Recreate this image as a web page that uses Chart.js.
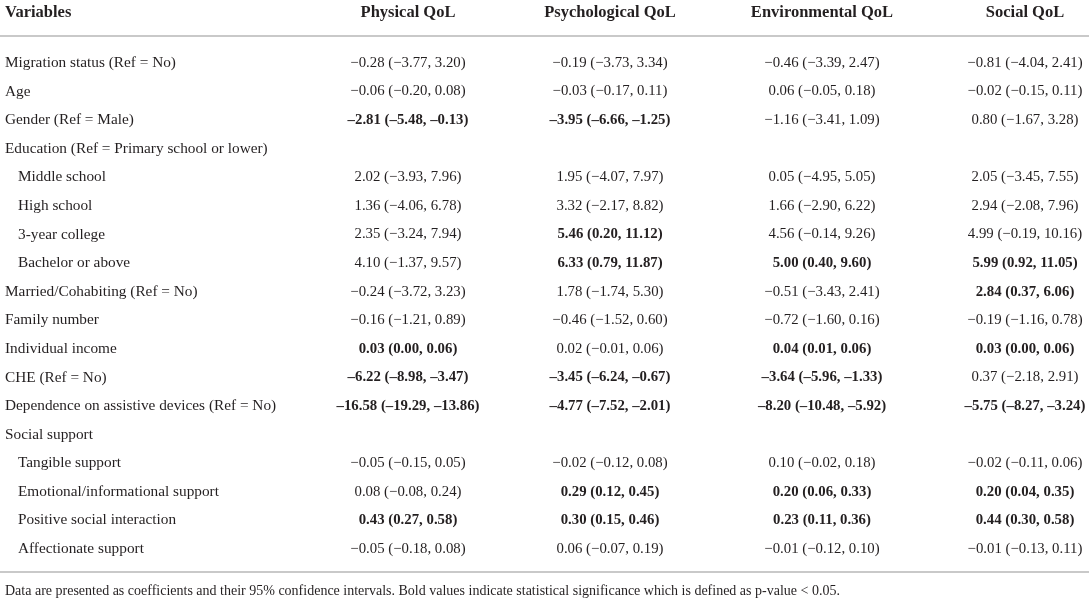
<!DOCTYPE html>
<html>
<head>
<meta charset="utf-8">
<script src="https://cdn.jsdelivr.net/npm/chart.js@4.4.0/dist/chart.umd.min.js"></script>
<style>
    body { margin: 0; background: #fff; }
    #qolTable { display: block; }
</style>
</head>
<body>
<canvas id="qolTable" width="1089" height="603"></canvas>
<script>
// table content
var columns = ["Physical QoL", "Psychological QoL", "Environmental QoL", "Social QoL"];
var variables = [
    "Migration status (Ref = No)",
    "Age",
    "Gender (Ref = Male)",
    "Education (Ref = Primary school or lower)",
    "Middle school",
    "High school",
    "3-year college",
    "Bachelor or above",
    "Married/Cohabiting (Ref = No)",
    "Family number",
    "Individual income",
    "CHE (Ref = No)",
    "Dependence on assistive devices (Ref = No)",
    "Social support",
    "Tangible support",
    "Emotional/informational support",
    "Positive social interaction",
    "Affectionate support"
];
var subRows = [4, 5, 6, 7, 14, 15, 16, 17];

var physCoef = [-0.28, -0.06, -2.81, null, 2.02, 1.36, 2.35, 4.10, -0.24, -0.16, 0.03, -6.22, -16.58, null, -0.05, 0.08, 0.43, -0.05];
var physLo   = [-3.77, -0.20, -5.48, null, -3.93, -4.06, -3.24, -1.37, -3.72, -1.21, 0.00, -8.98, -19.29, null, -0.15, -0.08, 0.27, -0.18];
var physHi   = [3.20, 0.08, -0.13, null, 7.96, 6.78, 7.94, 9.57, 3.23, 0.89, 0.06, -3.47, -13.86, null, 0.05, 0.24, 0.58, 0.08];

var psyCoef = [-0.19, -0.03, -3.95, null, 1.95, 3.32, 5.46, 6.33, 1.78, -0.46, 0.02, -3.45, -4.77, null, -0.02, 0.29, 0.30, 0.06];
var psyLo   = [-3.73, -0.17, -6.66, null, -4.07, -2.17, 0.20, 0.79, -1.74, -1.52, -0.01, -6.24, -7.52, null, -0.12, 0.12, 0.15, -0.07];
var psyHi   = [3.34, 0.11, -1.25, null, 7.97, 8.82, 11.12, 11.87, 5.30, 0.60, 0.06, -0.67, -2.01, null, 0.08, 0.45, 0.46, 0.19];

var envCoef = [-0.46, 0.06, -1.16, null, 0.05, 1.66, 4.56, 5.00, -0.51, -0.72, 0.04, -3.64, -8.20, null, 0.10, 0.20, 0.23, -0.01];
var envLo   = [-3.39, -0.05, -3.41, null, -4.95, -2.90, -0.14, 0.40, -3.43, -1.60, 0.01, -5.96, -10.48, null, -0.02, 0.06, 0.11, -0.12];
var envHi   = [2.47, 0.18, 1.09, null, 5.05, 6.22, 9.26, 9.60, 2.41, 0.16, 0.06, -1.33, -5.92, null, 0.18, 0.33, 0.36, 0.10];

var socCoef = [-0.81, -0.02, 0.80, null, 2.05, 2.94, 4.99, 5.99, 2.84, -0.19, 0.03, 0.37, -5.75, null, -0.02, 0.20, 0.44, -0.01];
var socLo   = [-4.04, -0.15, -1.67, null, -3.45, -2.08, -0.19, 0.92, 0.37, -1.16, 0.00, -2.18, -8.27, null, -0.11, 0.04, 0.30, -0.13];
var socHi   = [2.41, 0.11, 3.28, null, 7.55, 7.96, 10.16, 11.05, 6.06, 0.78, 0.06, 2.91, -3.24, null, 0.06, 0.35, 0.58, 0.11];

var footnote = "Data are presented as coefficients and their 95% confidence intervals. Bold values indicate statistical significance which is defined as p-value < 0.05.";

// layout (x in canvas units, y in row units)
var colX = [408, 610, 822, 1025];
var headRow = -1.75;
var ruleTop = -0.94;
var ruleBottom = 17.80;
var noteRow = 18.47;

var serif = "'Liberation Serif', 'DejaVu Serif', serif";
var ink = "#231f20";

function fmt(v, bold) {
    var s = Math.abs(v).toFixed(2);
    if (v < 0) s = (bold ? "\u2013" : "\u2212") + s;
    return s;
}

function makeSet(name, coef, lo, hi, x) {
    var pts = [];
    coef.forEach(function (c, i) {
        if (c === null) return;
        var sig = lo[i] >= 0 || hi[i] <= 0;
        pts.push({
            x: x, y: i,
            label: fmt(c, sig) + " (" + fmt(lo[i], sig) + ", " + fmt(hi[i], sig) + ")",
            bold: sig
        });
    });
    return { label: name, data: pts, pointRadius: 0, pointHoverRadius: 0 };
}

const tableText = {
    id: "tableText",
    afterDatasetsDraw(chart) {
        const { ctx, scales: { x, y } } = chart;
        ctx.save();
        ctx.textBaseline = "middle";
        ctx.fillStyle = ink;

        // header
        ctx.font = "bold 16.5px " + serif;
        ctx.textAlign = "left";
        ctx.fillText("Variables", x.getPixelForValue(5), y.getPixelForValue(headRow));
        ctx.textAlign = "center";
        columns.forEach(function (c, i) {
            ctx.fillText(c, x.getPixelForValue(colX[i]), y.getPixelForValue(headRow));
        });

        // rules
        ctx.strokeStyle = "#c9c9c9";
        ctx.lineWidth = 2;
        [ruleTop, ruleBottom].forEach(function (r) {
            var py = Math.round(y.getPixelForValue(r));
            ctx.beginPath();
            ctx.moveTo(x.left, py);
            ctx.lineTo(x.right, py);
            ctx.stroke();
        });

        // row labels
        ctx.font = "15.3px " + serif;
        ctx.textAlign = "left";
        variables.forEach(function (v, i) {
            var indent = subRows.indexOf(i) >= 0 ? 18 : 5;
            ctx.fillText(v, x.getPixelForValue(indent), y.getPixelForValue(i));
        });

        // cells
        ctx.textAlign = "center";
        chart.data.datasets.forEach(function (ds, di) {
            var meta = chart.getDatasetMeta(di);
            meta.data.forEach(function (pt, j) {
                var d = ds.data[j];
                ctx.font = (d.bold ? "bold " : "") + "14.8px " + serif;
                ctx.fillText(d.label, pt.x, pt.y);
            });
        });

        // footnote
        ctx.font = "14px " + serif;
        ctx.textAlign = "left";
        ctx.fillText(footnote, x.getPixelForValue(5), y.getPixelForValue(noteRow));
        ctx.restore();
    },
};

var ctx = document.getElementById("qolTable");
var qolChart = new Chart(ctx, {
    type: "scatter",
    data: {
        datasets: [
            makeSet(columns[0], physCoef, physLo, physHi, colX[0]),
            makeSet(columns[1], psyCoef, psyLo, psyHi, colX[1]),
            makeSet(columns[2], envCoef, envLo, envHi, colX[2]),
            makeSet(columns[3], socCoef, socLo, socHi, colX[3]),
        ],
    },
    options: {
        responsive: false,
        animation: false,
        events: [],
        layout: { padding: 0 },
        scales: {
            x: { type: "linear", display: false, min: 0, max: 1089 },
            y: { type: "linear", display: false, reverse: true, min: -63 / 28.59, max: 540 / 28.59 },
        },
        plugins: {
            legend: { display: false },
            tooltip: { enabled: false },
        },
    },
    plugins: [tableText],
});
</script>
</body>
</html>
